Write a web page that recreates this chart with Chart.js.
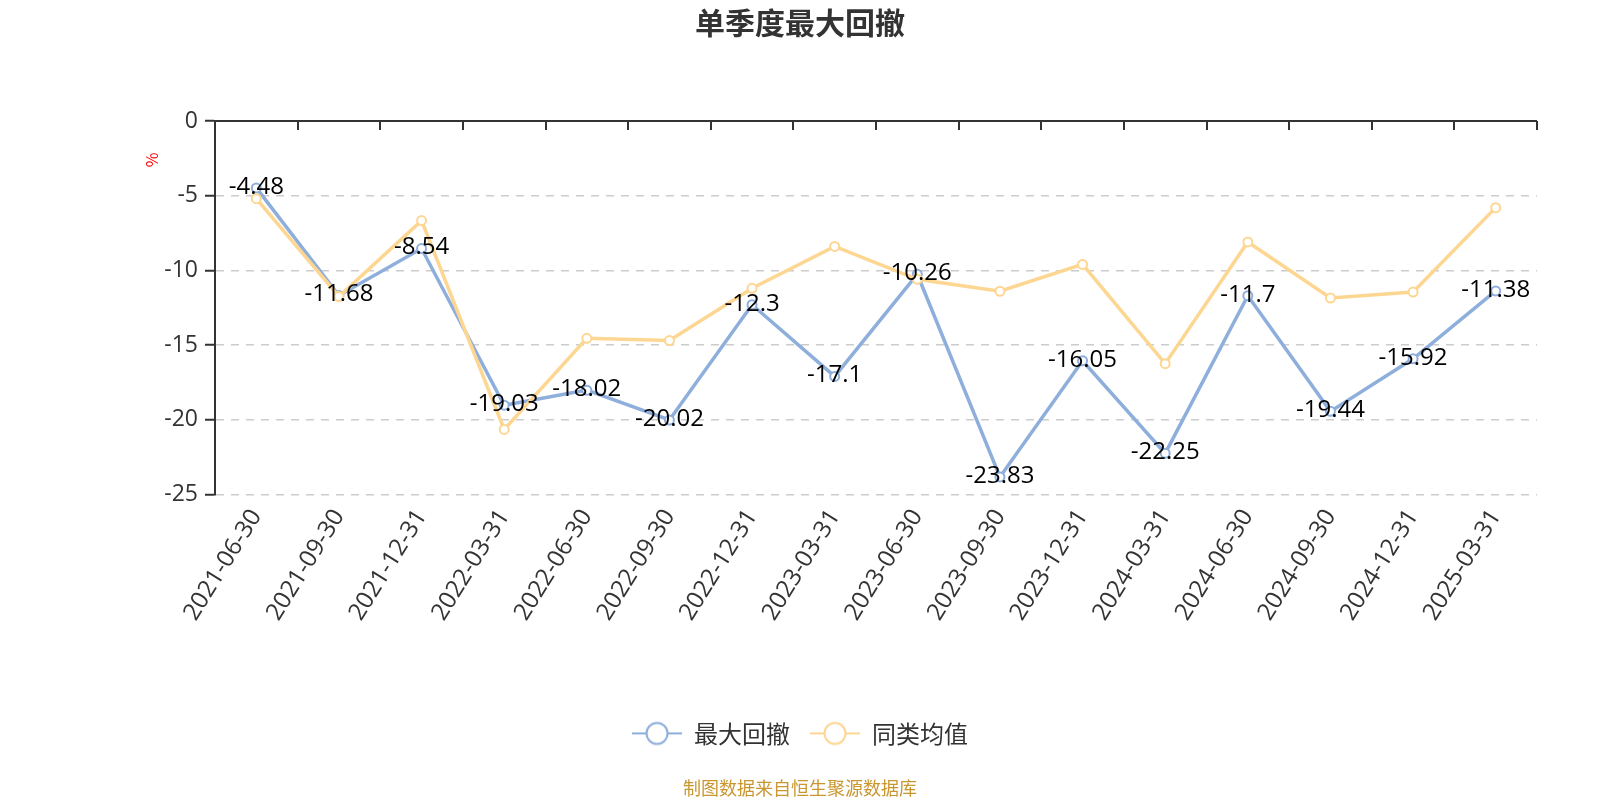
<!DOCTYPE html>
<html>
<head>
<meta charset="utf-8">
<script src="https://cdn.jsdelivr.net/npm/chart.js@4/dist/chart.umd.min.js"></script>
<style>
  html, body { margin: 0; padding: 0; background: #fff; }
  #wrap { width: 1600px; height: 800px; }
</style>
</head>
<body>
<div id="wrap"><canvas id="c"></canvas></div>
<script>
const FONT = '"Noto Sans CJK SC", "Noto Sans", sans-serif';
const NUM_FONT = '"Open Sans", "Noto Sans CJK SC", sans-serif';

const quarters = [
  "2021-06-30", "2021-09-30", "2021-12-31", "2022-03-31", "2022-06-30", "2022-09-30",
  "2022-12-31", "2023-03-31", "2023-06-30", "2023-09-30", "2023-12-31", "2024-03-31",
  "2024-06-30", "2024-09-30", "2024-12-31", "2025-03-31",
];
const maxDrawdown = [
  -4.48, -11.68, -8.54, -19.03, -18.02, -20.02, -12.3, -17.1,
  -10.26, -23.83, -16.05, -22.25, -11.7, -19.44, -15.92, -11.38,
];
const peerAverage = [
  -5.2, -11.75, -6.67, -20.65, -14.55, -14.7, -11.2, -8.4,
  -10.6, -11.4, -9.6, -16.25, -8.1, -11.85, -11.45, -5.8,
];
const yTicks = [0, -5, -10, -15, -20, -25];

const blue = "#8eaedb";
const yellow = "#fdd692";

const legendIcon = (color) => {
  const cv = document.createElement("canvas");
  cv.width = 50;
  cv.height = 26;
  const g = cv.getContext("2d");
  g.strokeStyle = color;
  g.lineWidth = 2;
  g.beginPath();
  g.moveTo(0, 13);
  g.lineTo(50, 13);
  g.stroke();
  g.beginPath();
  g.arc(25, 13, 10.5, 0, Math.PI * 2);
  g.fillStyle = "#fff";
  g.fill();
  g.stroke();
  return cv;
};

// top axis line with boundary ticks, "%" unit label, value labels
const extras = {
  id: "extras",
  afterDatasetsDraw(chart) {
    const { ctx, chartArea, scales } = chart;
    const x = scales.x;
    const y = scales.y;
    const y0 = y.getPixelForValue(0);
    const half = (x.getPixelForValue(1) - x.getPixelForValue(0)) / 2;

    ctx.save();
    ctx.strokeStyle = "#333";
    ctx.lineWidth = 2;
    ctx.beginPath();
    ctx.moveTo(chartArea.left, y0);
    ctx.lineTo(chartArea.right, y0);
    for (let i = 0; i <= quarters.length; i++) {
      const px = Math.round(x.getPixelForValue(i) - half);
      ctx.moveTo(px, y0);
      ctx.lineTo(px, y0 + 9);
    }
    ctx.stroke();

    ctx.fillStyle = "#ff0000";
    ctx.font = "16px " + FONT;
    ctx.translate(chartArea.left - 63, chartArea.top + 39);
    ctx.rotate(-Math.PI / 2);
    ctx.textAlign = "center";
    ctx.textBaseline = "middle";
    ctx.fillText("%", 0, 0);
    ctx.restore();

    ctx.save();
    ctx.font = "24px " + NUM_FONT;
    ctx.fillStyle = "#000";
    ctx.textAlign = "center";
    ctx.textBaseline = "middle";
    const meta = chart.getDatasetMeta(0);
    meta.data.forEach((pt, i) => {
      ctx.fillText(String(maxDrawdown[i]), pt.x, pt.y - 1);
    });
    ctx.restore();
  },
};

new Chart(document.getElementById("c"), {
  type: "line",
  data: {
    labels: quarters,
    datasets: [
      {
        label: "最大回撤",
        data: maxDrawdown,
        borderColor: blue,
        backgroundColor: "#fff",
        borderWidth: 3.5,
        pointRadius: 4.5,
        pointBorderWidth: 2,
        pointBackgroundColor: "#fff",
        pointBorderColor: blue,
        pointStyle: "circle",
        tension: 0,
        order: 2,
      },
      {
        label: "同类均值",
        data: peerAverage,
        borderColor: yellow,
        backgroundColor: "#fff",
        borderWidth: 3.5,
        pointRadius: 4.5,
        pointBorderWidth: 2,
        pointBackgroundColor: "#fff",
        pointBorderColor: yellow,
        pointStyle: "circle",
        tension: 0,
        order: 1,
      },
    ],
  },
  options: {
    animation: false,
    responsive: true,
    maintainAspectRatio: false,
    layout: { padding: { left: 63, right: 63, top: 0, bottom: 0 } },
    scales: {
      x: {
        offset: true,
        position: "bottom",
        border: { display: false },
        grid: { display: false, drawTicks: false },
        ticks: {
          color: "#333",
          font: { family: NUM_FONT, size: 24 },
          autoSkip: false,
          minRotation: 58,
          maxRotation: 58,
          padding: 10,
        },
        afterFit(scale) { scale.height = 207; },
      },
      y: {
        min: -25,
        max: 0,
        afterBuildTicks(scale) { scale.ticks = yTicks.map((v) => ({ value: v })); },
        border: { display: true, color: "#333", width: 2, dash: [8, 7] },
        grid: {
          color: (c) => (c.tick && c.tick.value === 0 ? "rgba(0,0,0,0)" : "#ccc"),
          lineWidth: 1.5,
          drawTicks: true,
          tickLength: 10,
          tickColor: "#333",
          tickWidth: 2,
          tickBorderDash: [],
        },
        ticks: {
          color: "#333",
          font: { family: NUM_FONT, size: 23 },
          padding: 7,
        },
        afterFit(scale) { scale.width = 152; },
      },
    },
    plugins: {
      title: {
        display: true,
        text: "单季度最大回撤",
        color: "#333",
        font: { family: FONT, size: 30, weight: "bold" },
        padding: { top: 5, bottom: 80 },
      },
      subtitle: {
        display: true,
        position: "bottom",
        text: "制图数据来自恒生聚源数据库",
        color: "#c9962f",
        font: { family: FONT, size: 18, weight: "normal" },
        padding: { top: 22, bottom: 1 },
      },
      legend: {
        position: "bottom",
        labels: {
          sort: (a, b) => a.datasetIndex - b.datasetIndex,
          usePointStyle: true,
          pointStyleWidth: 50,
          generateLabels(chart) {
            return chart.data.datasets.map((ds, i) => ({
              text: ds.label,
              datasetIndex: i,
              pointStyle: legendIcon(ds.borderColor),
              fillStyle: "#fff",
              strokeStyle: ds.borderColor,
              fontColor: "#333",
              lineWidth: 0,
              hidden: false,
            }));
          },
          color: "#333",
          font: { family: FONT, size: 24 },
          padding: 20,
        },
      },
      tooltip: { enabled: false },
    },
  },
  plugins: [extras],
});
</script>
</body>
</html>
